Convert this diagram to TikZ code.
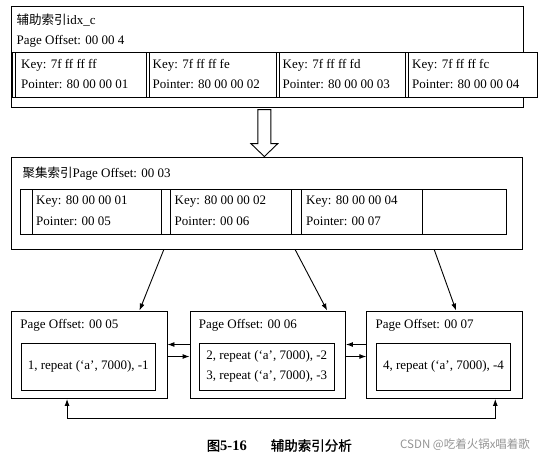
\documentclass[tikz,border=0pt]{standalone}
\usepackage{fontspec}
\setmainfont{Liberation Serif}
\newfontfamily\cjk{Noto Sans CJK SC}
\newfontfamily\capfont[FakeBold=1.2]{Noto Sans CJK SC}
\usetikzlibrary{arrows.meta}

\tikzset{
  frame/.style={draw, line width=0.9pt, inner sep=0pt},
  txt/.style={anchor=west, inner sep=0pt, font=\fontsize{13}{15}\selectfont},
  rectxt/.style={inner sep=0pt, align=left, font=\fontsize{13}{19.5}\selectfont},
  link/.style={line width=0.9pt, -{Latex[length=7pt,width=5pt]}},
  twoway/.style={line width=0.9pt, {Latex[length=7pt,width=5pt]}-{Latex[length=7pt,width=5pt]}},
}

\begin{document}
\begin{tikzpicture}[x=1pt,y=1pt,yscale=-1,xscale=1]
\useasboundingbox (0,0) rectangle (548,456);

%Shape: Rectangle [id:idxbox]
\node [frame, minimum width=511.5pt, minimum height=101pt] (idxbox) at (267.25,56.5) {};
% Text Node
\node [txt] (idxname) at (16.5,20.5) {{\cjk\fontsize{12.5}{15}\selectfont 辅助索引}idx\_c};
% Text Node
\node [txt] (idxoff) at (16.5,41) {Page Offset: 00 00 4};

%Shape: Rectangle [id:keyrow]
\draw [frame, fill=white] (12.5,52.5) rectangle (537,97.3);
\foreach \xx in {15.5,146,149.5,276,279.5,405,408.5}
  \draw [frame] (\xx,52.5) -- (\xx,97.3);
\foreach \xx/\kk/\pp [count=\i] in {21/ff/01, 152.5/fe/02, 282.5/fd/03, 412/fc/04} {
  \node [txt] (key\i) at (\xx,65) {Key: 7f ff ff \kk};
  \node [txt] (ptr\i) at (\xx,84.5) {Pointer: 80 00 00 \pp};
}

%Shape: Rectangle [id:clubox]
\node [frame, minimum width=511.2pt, minimum height=92pt] (clubox) at (267.1,203) {};
% Text Node
\node [txt] (cluname) at (22.5,173.5) {{\cjk\fontsize{12.5}{15}\selectfont 聚集索引}Page Offset: 00 03};

%Shape: Rectangle [id:clurow]
\draw [frame] (20.3,189) rectangle (506,234);
\foreach \xx in {32.3,161.3,170.6,291.5,301.5,422.2}
  \draw [frame] (\xx,189) -- (\xx,234);
\foreach \xx/\kk/\pp [count=\i] in {36/01/05, 174.5/02/06, 306/04/07} {
  \node [txt] (ckey\i) at (\xx,201.5) {Key: 80 00 00 \kk};
  \node [txt] (cptr\i) at (\xx,221) {Pointer: 00 \pp};
}

%Hollow arrow from idxbox to clubox
\draw [frame, line join=miter] ([xshift=-2.75pt]clubox.north) -- ++(-13.5,-13) -- ++(7,0) -- ++(0,-34)
  -- ++(13,0) -- ++(0,34) -- ++(7,0) -- cycle;

%Shape: Rectangle [id:pages]
\foreach \cx/\nn in {89.25/05, 267.75/06, 444.5/07} {
  \node [frame, minimum width=155.5pt, minimum height=87.5pt] (page\nn) at (\cx,354.75) {};
  \node [txt] (off\nn) at (\cx-69,325.5) {Page Offset: 00 \nn};
  \node [frame, minimum width=134.5pt, minimum height=47pt] (rec\nn) at (\cx-1,366.5) {};
}
% Text Node
\node [rectxt] (row05) at (rec05) {1, repeat (‘a’, 7000), -1};
\node [rectxt] (row06) at (rec06) {2, repeat (‘a’, 7000), -2\\3, repeat (‘a’, 7000), -3};
\node [rectxt] (row07) at (rec07) {4, repeat (‘a’, 7000), -4};

%Straight Lines: pointers down
\draw [link] ([xshift=152.8pt]clubox.south west) -- ([xshift=128.4pt]page05.north west);
\draw [link] ([xshift=284pt]clubox.south west) -- ([xshift=137.6pt]page06.north west);
\draw [link] ([xshift=423.1pt]clubox.south west) -- ([xshift=89.8pt]page07.north west);

%Straight Lines: sibling pages
\draw [link] ([yshift=1.75pt]page05.east) -- ([yshift=1.75pt]page06.west);
\draw [link] ([yshift=-10.25pt]page06.west) -- ([yshift=-10.25pt]page05.east);
\draw [link] ([yshift=1.75pt]page06.east) -- ([yshift=1.75pt]page07.west);
\draw [link] ([yshift=-10.25pt]page07.west) -- ([yshift=-10.25pt]page06.east);
\draw [twoway] ([xshift=56pt]page05.south west) -- ++(0,19) -| ([xshift=129pt]page07.south west);

% Text Node
\node [anchor=west, inner sep=0pt] (caption) at (206.5,445.5)
  {{\capfont\fontsize{13.5}{15}\selectfont 图}{\fontsize{14.5}{15}\selectfont\bfseries 5-16}\hspace{24pt}{\capfont\fontsize{13.5}{15}\selectfont 辅助索引分析}};
% Text Node
\node [anchor=west, inner sep=0pt, text=black!42] (mark) at (400,444.5)
  {\cjk\fontsize{11.5}{14}\selectfont CSDN @吃着火锅x唱着歌};

\end{tikzpicture}
\end{document}
